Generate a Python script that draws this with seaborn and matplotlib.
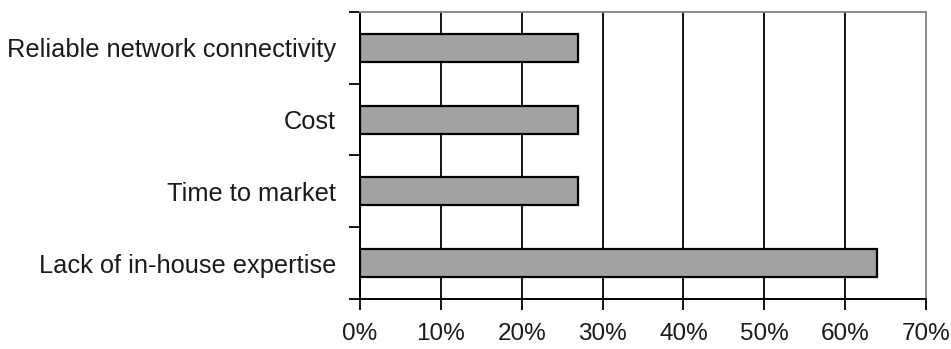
import numpy as np
import pandas as pd
import seaborn as sns
import matplotlib.pyplot as plt
from matplotlib.ticker import FixedLocator, PercentFormatter

categories = ['Reliable network connectivity', 'Cost', 'Time to market',
              'Lack of in-house expertise']
values = [27, 27, 27, 64]
xticks = [0, 10, 20, 30, 40, 50, 60, 70]

df = pd.DataFrame({'Category': categories, 'Percent': values})

sns.set_style('white')
plt.rcParams['font.family'] = ['Liberation Sans', 'DejaVu Sans']

fig = plt.figure(figsize=(9.51, 3.49), dpi=100)
ax = fig.add_axes([0.3785, 0.1433, 0.5952, 0.8223])

sns.barplot(data=df, x='Percent', y='Category', orient='h', color='#a2a2a2',
            edgecolor='black', linewidth=1.6, width=0.39, saturation=1, ax=ax)

ax.set_xlim(0, 70)
ax.set_ylim(len(categories) - 0.5, -0.5)
ax.set_xticks(xticks)
ax.xaxis.set_major_formatter(PercentFormatter(decimals=0))
for x in xticks[1:-1]:
    ax.axvline(x, color='black', lw=1.3, zorder=0)

# ticks between the categories, labels on the category centres
ax.yaxis.set_minor_locator(FixedLocator(np.arange(-0.5, len(categories), 1)))
ax.tick_params(axis='y', which='major', length=0, pad=17, labelsize=18.3, colors='#1a1a1a')
ax.tick_params(axis='y', which='minor', length=8, width=1.3, color='black', left=True)
ax.tick_params(axis='x', which='major', length=8, width=1.3, color='black', bottom=True,
               pad=9, labelsize=17.5, labelcolor='#1a1a1a')

ax.set_xlabel('')
ax.set_ylabel('')
for side in ['left', 'bottom']:
    ax.spines[side].set_color('black')
    ax.spines[side].set_linewidth(1.4)
for side in ['top', 'right']:
    ax.spines[side].set_color('#8a8a8a')
    ax.spines[side].set_linewidth(1.4)

fig.savefig('out.png', dpi=100)
